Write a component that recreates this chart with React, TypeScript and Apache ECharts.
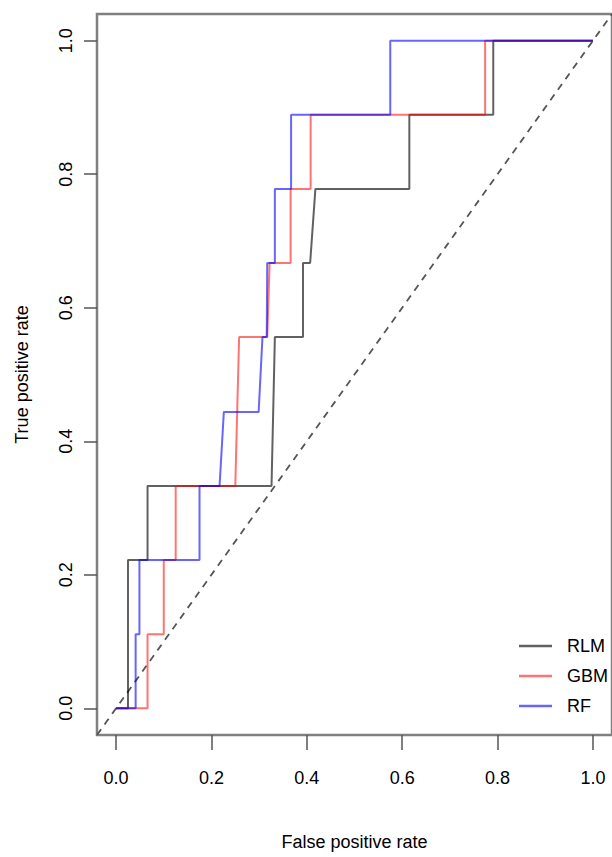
import React, { useEffect, useRef } from "react";
import * as echarts from "echarts";

// ROC curves for three classifiers (false positive rate vs true positive rate)
const rlmFpr = [0, 0.025, 0.025, 0.066, 0.066, 0.326, 0.333, 0.392, 0.392, 0.407, 0.418, 0.615, 0.615, 0.791, 0.791, 1];
const rlmTpr = [0, 0, 0.222, 0.222, 0.333, 0.333, 0.556, 0.556, 0.667, 0.667, 0.778, 0.778, 0.889, 0.889, 1, 1];

const gbmFpr = [0, 0.066, 0.066, 0.1, 0.1, 0.125, 0.125, 0.25, 0.258, 0.317, 0.322, 0.366, 0.366, 0.408, 0.408, 0.774, 0.774, 1];
const gbmTpr = [0, 0, 0.111, 0.111, 0.222, 0.222, 0.333, 0.333, 0.556, 0.556, 0.667, 0.667, 0.778, 0.778, 0.889, 0.889, 1, 1];

const rfFpr = [0, 0.041, 0.041, 0.049, 0.049, 0.175, 0.175, 0.217, 0.226, 0.299, 0.307, 0.316, 0.317, 0.333, 0.333, 0.367, 0.367, 0.575, 0.575, 1];
const rfTpr = [0, 0, 0.111, 0.111, 0.222, 0.222, 0.333, 0.333, 0.444, 0.444, 0.556, 0.556, 0.667, 0.667, 0.778, 0.778, 0.889, 0.889, 1, 1];

// chance line spanning the padded plot range
const chanceLine = [-0.04, 1.04];

const tickValues = [0, 0.2, 0.4, 0.6, 0.8, 1.0];
const modelNames = ["RLM", "GBM", "RF"];

const FONT = '"Liberation Sans", Arial, Helvetica, sans-serif';
const FS = 18;

const zip = (xs: number[], ys: number[]) => xs.map((x, i) => [x, ys[i]]);

export default function App() {
  const ref = useRef<HTMLDivElement>(null);

  useEffect(() => {
    if (!ref.current) return;
    const chart = echarts.init(ref.current, undefined, { renderer: "svg" });

    const curve = (name: string, xs: number[], ys: number[], color: string) => ({
      name,
      type: "line",
      data: zip(xs, ys),
      showSymbol: false,
      symbol: "none",
      lineStyle: { color, width: 2 },
      itemStyle: { color },
      z: 3,
    });

    const tickLabel = {
      customValues: tickValues,
      formatter: (v: number) => v.toFixed(1),
      fontFamily: FONT,
      fontSize: FS,
      color: "#000",
    };

    chart.setOption({
      animation: false,
      backgroundColor: "#fff",
      textStyle: { fontFamily: FONT, color: "#000" },
      grid: {
        left: 97,
        top: 14,
        width: 520,
        height: 721,
        show: true,
        borderColor: "#808080",
        borderWidth: 2.5,
        backgroundColor: "transparent",
      },
      xAxis: {
        type: "value",
        min: -0.04,
        max: 1.04,
        name: "False positive rate",
        nameLocation: "middle",
        nameGap: 98,
        nameTextStyle: { fontFamily: FONT, fontSize: FS, color: "#000" },
        axisLine: { show: false, onZero: false },
        splitLine: { show: false },
        axisTick: {
          show: true,
          length: 15,
          customValues: tickValues,
          lineStyle: { color: "#555", width: 1.5 },
        },
        axisLabel: { ...tickLabel, margin: 34 },
      },
      yAxis: {
        type: "value",
        min: -0.04,
        max: 1.04,
        name: "True positive rate",
        nameLocation: "middle",
        nameGap: 66,
        nameRotate: 90,
        nameTextStyle: { fontFamily: FONT, fontSize: FS, color: "#000" },
        axisLine: { show: false, onZero: false },
        splitLine: { show: false },
        axisTick: {
          show: true,
          length: 13,
          customValues: tickValues,
          lineStyle: { color: "#555", width: 1.5 },
        },
        axisLabel: { ...tickLabel, rotate: 90, margin: 22 },
      },
      legend: {
        orient: "vertical",
        left: 519,
        top: 635,
        padding: 0,
        icon: "rect",
        itemWidth: 33,
        itemHeight: 2.5,
        itemGap: 8,
        data: modelNames,
        textStyle: {
          fontFamily: FONT,
          fontSize: FS,
          lineHeight: 22,
          color: "#000",
          padding: [0, 0, 0, 10],
        },
      },
      series: [
        {
          name: "chance",
          type: "line",
          data: zip(chanceLine, chanceLine),
          showSymbol: false,
          symbol: "none",
          lineStyle: { color: "#555", width: 1.8, type: [7, 6] },
          z: 2,
        },
        curve(modelNames[0], rlmFpr, rlmTpr, "rgba(0,0,0,0.62)"),
        curve(modelNames[1], gbmFpr, gbmTpr, "rgba(255,0,0,0.55)"),
        curve(modelNames[2], rfFpr, rfTpr, "rgba(0,0,255,0.6)"),
      ],
    });

    return () => chart.dispose();
  }, []);

  return (
    <div
      ref={ref}
      style={{ position: "absolute", left: 0, top: 0, width: 612, height: 857 }}
    />
  );
}
